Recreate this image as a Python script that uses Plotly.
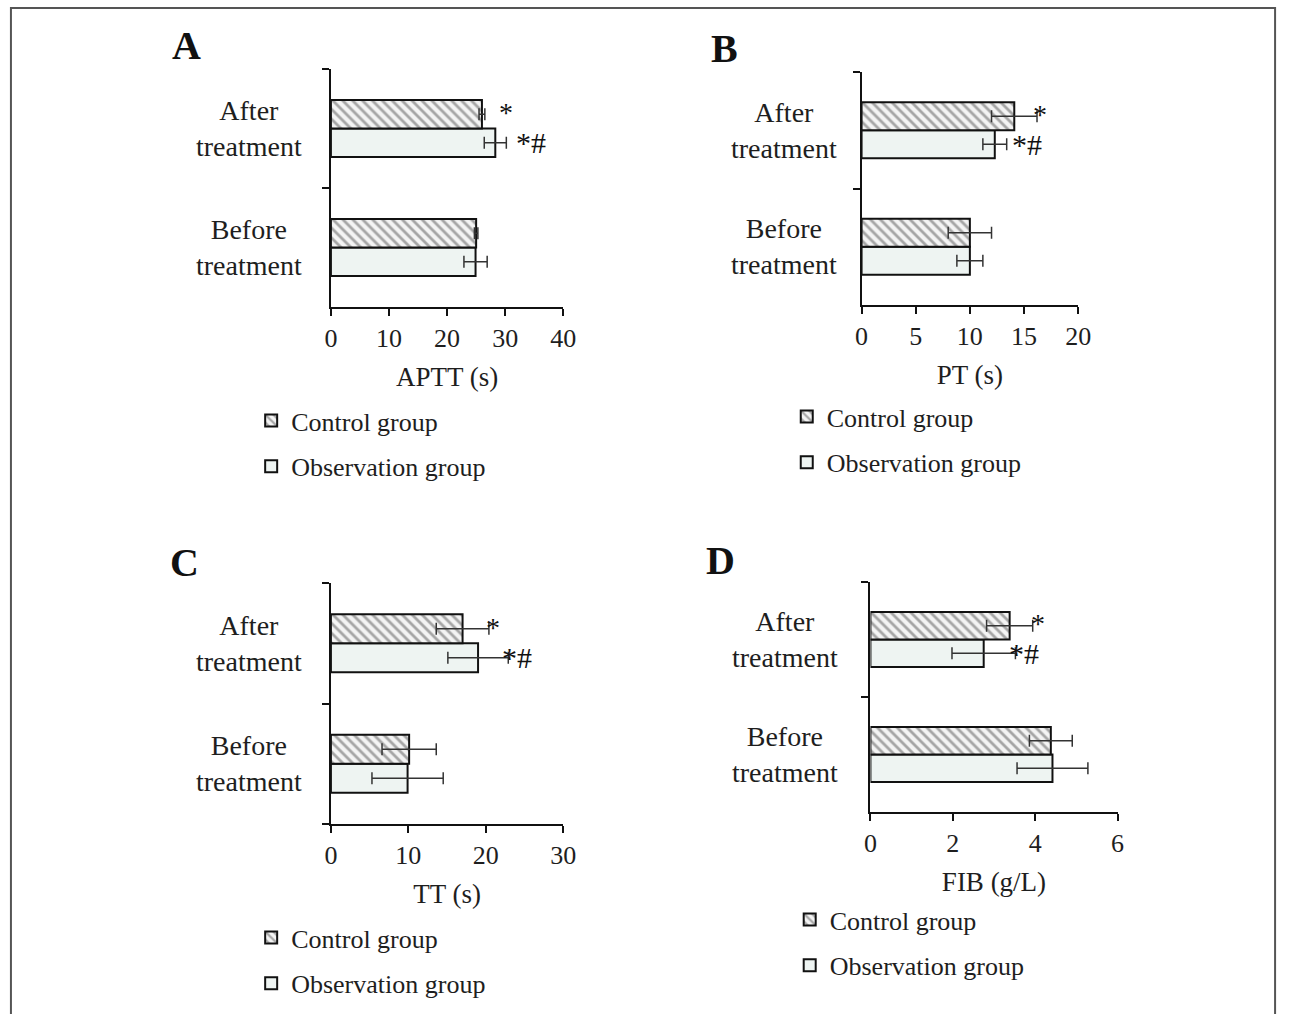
import plotly.graph_objects as go

categories = ["Before treatment", "After treatment"]
cat_labels = ["Before<br>treatment", "After<br>treatment"]
groups = ["Control group", "Observation group"]

panel_letters = ["A", "B", "C", "D"]
axis_titles = ["APTT (s)", "PT (s)", "TT (s)", "FIB (g/L)"]
x_ranges = [[0, 40], [0, 20], [0, 30], [0, 6]]
x_dticks = [10, 5, 10, 2]

# values: [Before, After]
control_vals = [[25.0, 26.0], [10.0, 14.1], [10.1, 17.0], [4.38, 3.38]]
control_errs = [[0.3, 0.5], [2.0, 2.1], [3.5, 3.4], [0.52, 0.56]]
obs_vals = [[24.9, 28.3], [10.0, 12.3], [9.9, 19.0], [4.42, 2.75]]
obs_errs = [[2.0, 1.9], [1.2, 1.1], [4.6, 3.9], [0.86, 0.77]]

sig_control = ["*", "*", "*", "*"]   # After treatment, control
sig_obs = ["*#", "*#", "*#", "*#"]    # After treatment, observation

W, H = 1293, 1014
FONT = "Liberation Serif"
TXT = "#1e1e1e"


def fx(px):
    return px / W


def fy(py):
    return 1 - py / H


# pixel layouts (left, right, top, bottom) of each plotting area
areas = [(329, 565, 69, 307), (868, 1088, 72, 305), (329, 565, 583, 824), (877, 1128, 582, 812)]
label_cx = [246, 789, 246, 790]
letter_pos = [(182, 45), (729, 48), (180, 562), (725, 560)]
legend_pos = [(248, 397), (792, 393), (248, 914), (795, 896)]
sig_shift_ctrl = [12, -6, -5, -4]
sig_shift_obs = [8, 3, -8, -8]

fig = go.Figure()
annotations = []

for i in range(4):
    xa = "x" if i == 0 else f"x{i+1}"
    ya = "y" if i == 0 else f"y{i+1}"
    lg = "legend" if i == 0 else f"legend{i+1}"
    # observation first (drawn lower in group), control second (upper)
    fig.add_trace(go.Bar(
        y=categories, x=obs_vals[i], orientation="h", name=groups[1],
        xaxis=xa, yaxis=ya, legend=lg, legendgroup=f"o{i}", legendrank=2,
        marker=dict(color="#eef4f2", line=dict(color="#111", width=2)),
        error_x=dict(type="data", array=obs_errs[i], color="#333", thickness=1.5, width=6),
    ))
    fig.add_trace(go.Bar(
        y=categories, x=control_vals[i], orientation="h", name=groups[0],
        xaxis=xa, yaxis=ya, legend=lg, legendgroup=f"c{i}", legendrank=1,
        marker=dict(color="#f2f2f2", line=dict(color="#111", width=2),
                    pattern=dict(shape="\\", fgcolor="#555555", bgcolor="#f4f4f4",
                                 size=7, solidity=0.4)),
        error_x=dict(type="data", array=control_errs[i], color="#333", thickness=1.5, width=6),
    ))
    l, r, t, b = areas[i]
    xkey = "xaxis" if i == 0 else f"xaxis{i+1}"
    ykey = "yaxis" if i == 0 else f"yaxis{i+1}"
    fig.layout[xkey] = dict(
        domain=[fx(l), fx(r)], anchor=ya, range=x_ranges[i], dtick=x_dticks[i],
        showline=True, linecolor="#111", linewidth=2, ticks="outside", ticklen=7,
        tickwidth=2, tickcolor="#111", showgrid=False, zeroline=False,
        tickfont=dict(family=FONT, size=26, color=TXT),
        title=dict(text=axis_titles[i], font=dict(family=FONT, size=27, color=TXT), standoff=15),
        fixedrange=True,
    )
    fig.layout[ykey] = dict(
        domain=[fy(b), fy(t)], anchor=xa, type="category",
        categoryorder="array", categoryarray=categories, range=[-0.5, 1.5],
        showline=True, linecolor="#111", linewidth=2, ticks="outside", ticklen=7,
        tickwidth=2, tickcolor="#111", tickson="boundaries", showticklabels=False,
        showgrid=False, zeroline=False, fixedrange=True,
    )
    lx, ly = legend_pos[i]
    fig.layout[lg] = dict(
        x=fx(lx), y=fy(ly), xanchor="left", yanchor="top", xref="paper", yref="paper",
        font=dict(family=FONT, size=26, color=TXT), bgcolor="rgba(0,0,0,0)",
        tracegroupgap=9, itemwidth=30, traceorder="grouped",
    )
    for c, lab in zip(categories, cat_labels):
        annotations.append(dict(
            xref="paper", yref=ya, x=fx(label_cx[i]), y=c, text=lab, showarrow=False,
            xanchor="center", yanchor="middle", align="center",
            font=dict(family=FONT, size=28, color=TXT),
        ))
    px_, py_ = letter_pos[i]
    annotations.append(dict(
        xref="paper", yref="paper", x=fx(px_), y=fy(py_), text=f"<b>{panel_letters[i]}</b>",
        showarrow=False, xanchor="center", yanchor="middle",
        font=dict(family=FONT, size=40, color="#111"),
    ))
    annotations.append(dict(
        xref=xa, yref=ya, x=control_vals[i][1] + control_errs[i][1], y=categories[1],
        text=sig_control[i], showarrow=False, xanchor="left", yanchor="middle",
        xshift=sig_shift_ctrl[i], yshift=16, font=dict(family=FONT, size=28, color="#111"),
    ))
    annotations.append(dict(
        xref=xa, yref=ya, x=obs_vals[i][1] + obs_errs[i][1], y=categories[1],
        text=sig_obs[i], showarrow=False, xanchor="left", yanchor="middle",
        xshift=sig_shift_obs[i], yshift=-14, font=dict(family=FONT, size=30, color="#111"),
    ))

fig.update_layout(
    width=W, height=H, margin=dict(l=0, r=0, t=0, b=0),
    paper_bgcolor="white", plot_bgcolor="white",
    barmode="group", bargap=0.52, bargroupgap=0.0,
    annotations=annotations,
    shapes=[dict(type="rect", xref="paper", yref="paper", x0=fx(4), x1=fx(1288),
                 y0=-0.05, y1=fy(8), line=dict(color="#555", width=2))],
    font=dict(family=FONT, color=TXT),
)

fig.write_html(
    "out.html",
    config={"displayModeBar": False},
    post_script="document.body.style.margin='0';document.body.style.overflow='hidden';",
)
